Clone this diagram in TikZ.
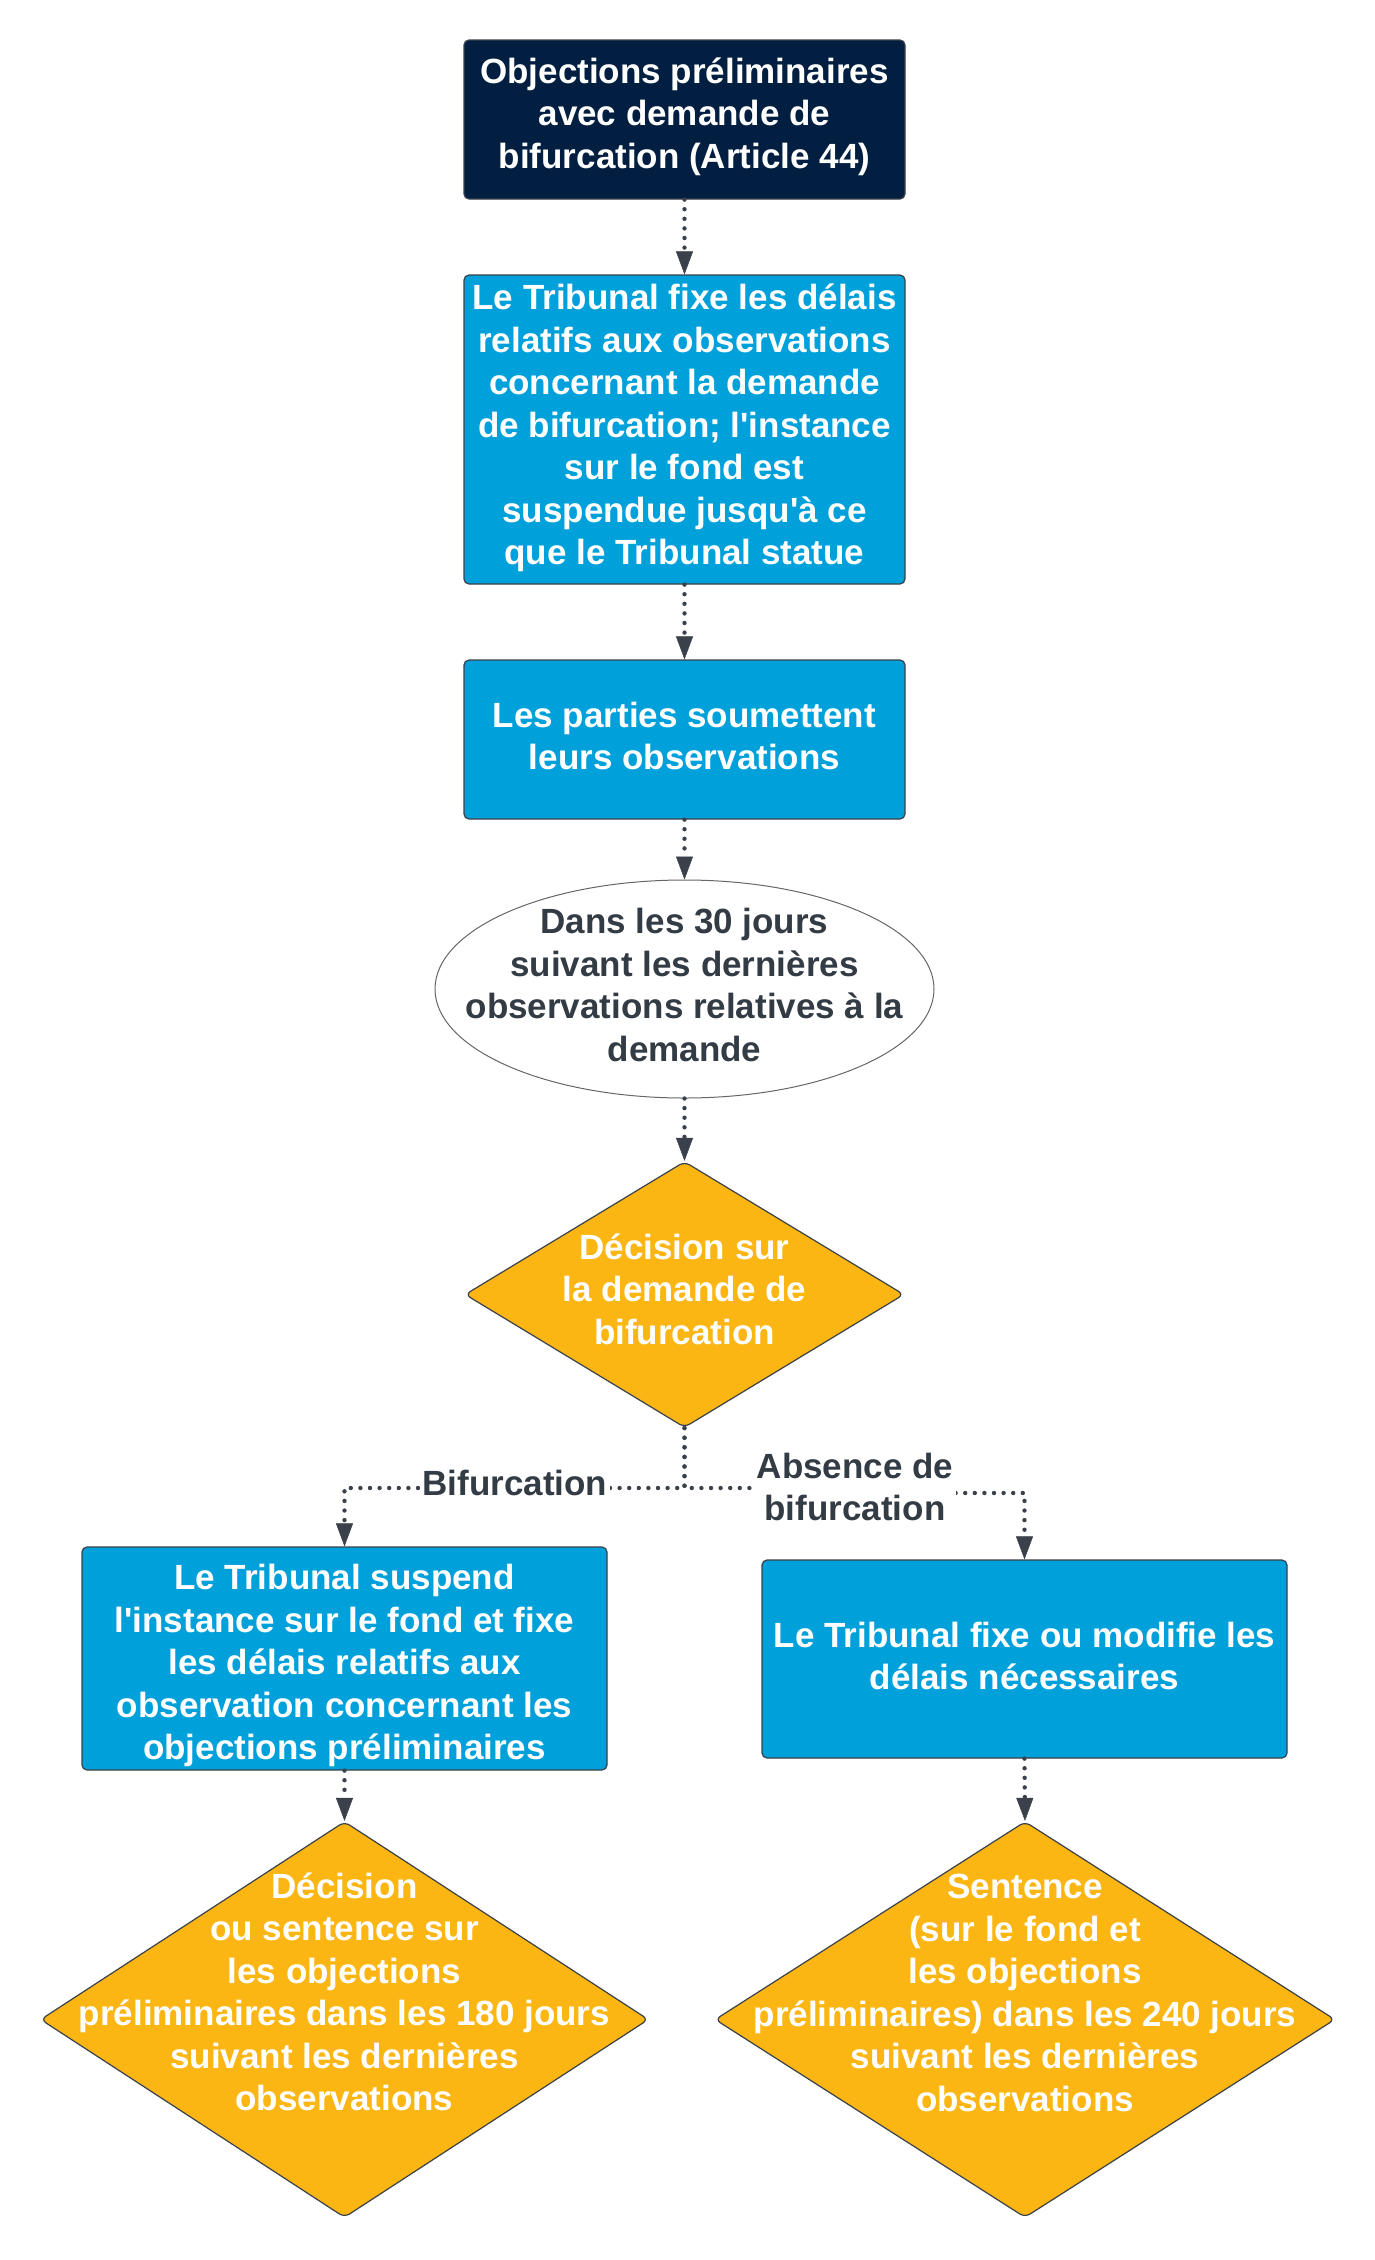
\documentclass[tikz,border=0pt]{standalone}
\usepackage{fontspec}
\setmainfont{Liberation Sans}[Ligatures=TeXOff]
\usetikzlibrary{shapes.geometric,arrows.meta}
\definecolor{navy}{HTML}{021F41}
\definecolor{lblue}{HTML}{00A0DA}
\definecolor{gold}{HTML}{FBB614}
\definecolor{edge}{HTML}{3A414A}
\definecolor{ink}{HTML}{333B45}
\tikzset{
  bigfont/.style={font=\fontsize{35}{42.5}\selectfont\bfseries},
  boxnode/.style={draw=edge, line width=1.2pt, rounded corners=5pt, fill=#1, inner sep=0pt},
  dnode/.style={diamond, draw=edge, line width=1.2pt, rounded corners=6pt, fill=gold, inner sep=0pt},
  txt/.style={bigfont, align=center, inner sep=0pt, text=#1},
  conn/.style={draw=edge, line width=4.4pt, dash pattern=on 0pt off 9.6pt, line cap=round,
    -{Triangle[width=17pt,length=23pt,line width=0.5pt]}},
  lbl/.style={bigfont, align=center, text=ink, fill=white, inner sep=3pt}
}
\begin{document}
\begin{tikzpicture}[x=1pt,y=-1pt]
\useasboundingbox (0,0) rectangle (1375,2260);

\node[boxnode=navy, minimum width=441pt, minimum height=159pt] (n1) at (684.5,119.5) {};
\node[txt=white] (tn1) at (684.5,116.5) {Objections préliminaires\\avec demande de\\bifurcation (Article 44)};
\node[boxnode=lblue, minimum width=441pt, minimum height=309pt] (n2) at (684.5,429.5) {};
\node[txt=white] (tn2) at (684.5,428) {Le Tribunal fixe les délais\\relatifs aux observations\\concernant la demande\\de bifurcation; l'instance\\sur le fond est\\suspendue jusqu'à ce\\que le Tribunal statue};
\node[boxnode=lblue, minimum width=441pt, minimum height=159pt] (n3) at (684.5,739.5) {};
\node[txt=white] (tn3) at (684.5,736) {Les parties soumettent\\leurs observations};

\node[ellipse, draw=gray!80!black, line width=1pt, fill=white, minimum width=499pt, minimum height=218pt, inner sep=0pt] (ell) at (684.5,989) {};
\node[txt=ink] (tell) at (684.5,985) {Dans les 30 jours\\suivant les dernières\\observations relatives à la\\demande};

\node[dnode, minimum width=439pt, minimum height=266pt] (d1) at (684.5,1294.5) {};
\node[txt=white] (td1) at (684.5,1289) {Décision sur\\la demande de\\bifurcation};

\node[boxnode=lblue, minimum width=525pt, minimum height=223pt] (lbox) at (344.5,1658.5) {};
\node[txt=white] (tlbox) at (344.5,1665.5) {Le Tribunal suspend\\l'instance sur le fond et fixe\\les délais relatifs aux\\observation concernant les\\objections préliminaires};
\node[boxnode=lblue, minimum width=525pt, minimum height=198pt] (rbox) at (1024.5,1659) {};
\node[txt=white] (trbox) at (1024.5,1656) {Le Tribunal fixe ou modifie les\\délais nécessaires};

\node[dnode, minimum width=608pt, minimum height=396pt] (d2) at (344.5,2019.5) {};
\node[txt=white] (td2) at (344.5,1992) {Décision\\ou sentence sur\\les objections\\préliminaires dans les 180 jours\\suivant les dernières\\observations};
\node[dnode, minimum width=620pt, minimum height=396pt] (d3) at (1025,2019.5) {};
\node[txt=white] (td3) at (1025,1993) {Sentence\\(sur le fond et\\les objections\\préliminaires) dans les 240 jours\\suivant les dernières\\observations};

\coordinate (split) at (684.5,1488);
\coordinate (stepA) at (855,1488);
\coordinate (stepB) at (855,1493);

\draw[conn] (n1.south) -- (n2.north);
\draw[conn] (n2.south) -- (n3.north);
\draw[conn] (n3.south) -- (ell.north);
\draw[conn] (ell.south) -- (d1.north);
\draw[conn] (d1.south) -- (split) -| (lbox.north);
\draw[conn] (d1.south) -- (split) -- (stepA) -- (stepB) -| (rbox.north);
\draw[conn] (lbox.south) -- (d2.north);
\draw[conn] (rbox.south) -- (d3.north);

\node[lbl] (lb1) at (515,1483) {Bifurcation};
\node[lbl] (lb2) at (855,1487) {Absence de\\bifurcation};
\end{tikzpicture}
\end{document}
